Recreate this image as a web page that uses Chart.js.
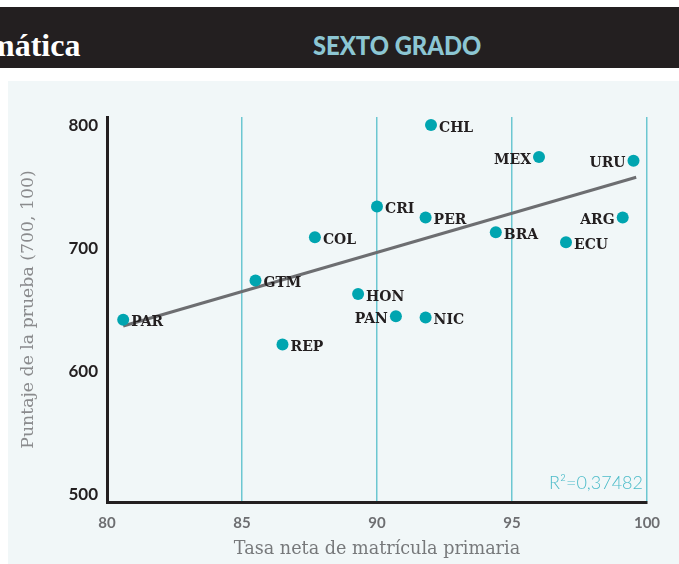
<!DOCTYPE html>
<html>
<head>
<meta charset="utf-8">
<script src="https://cdn.jsdelivr.net/npm/chart.js@4.4.0/dist/chart.umd.min.js"></script>
<style>
  body { margin: 0; width: 679px; height: 564px; background: #ffffff; position: relative; overflow: hidden; }
  #header { position: absolute; left: 0; top: 7px; width: 679px; height: 61px; background: #231f20; overflow: hidden; }
  #subject { position: absolute; left: -12px; top: 20px; line-height: 32px; color: #ffffff; font: bold 32px "Liberation Serif", serif; }
  #grade { position: absolute; left: 313px; top: 21px; color: #8cc6d3; font: 900 27px Lato, sans-serif; transform: scaleX(0.88); transform-origin: left top; white-space: nowrap; }
  #panel { position: absolute; left: 8px; top: 81px; width: 671px; height: 483px; background: #f1f7f8; }
  canvas { position: absolute; left: 0; top: 0; }
</style>
</head>
<body>
<div id="header"><span id="subject">mática</span><span id="grade">SEXTO GRADO</span></div>
<div id="panel"><canvas id="scatter" width="671" height="483" style="width:671px;height:483px"></canvas></div>
<script>
// values
const countries = ['PAR', 'GTM', 'REP', 'COL', 'HON', 'CRI', 'PAN', 'NIC', 'PER', 'CHL', 'BRA', 'MEX', 'ECU', 'ARG', 'URU'];
const enrolment = [80.6, 85.5, 86.5, 87.7, 89.3, 90.0, 90.7, 91.8, 91.8, 92.0, 94.4, 96.0, 97.0, 99.1, 99.5];
const scores = [642, 674, 622, 709, 663, 734, 645, 644, 725, 800, 713, 774, 705, 725, 771];
const trendX = [80.6, 99.6];
const trendY = [637, 757.6];
const xTicks = [80, 85, 90, 95, 100];
const yTicks = [500, 600, 700, 800];
const r2Text = 'R²=0,37482';

// labels that sit on the left of their dot
const leftLabels = ['MEX', 'URU', 'ARG', 'PAN'];

const pointLabels = {
    id: 'pointLabels',
    afterDatasetsDraw(chart) {
        const ctx = chart.ctx;
        const meta = chart.getDatasetMeta(1);
        ctx.save();
        ctx.font = 'bold 14px "DejaVu Serif", serif';
        ctx.fillStyle = '#231f20';
        ctx.textBaseline = 'middle';
        meta.data.forEach((pt, i) => {
            const name = countries[i];
            if (leftLabels.includes(name)) {
                ctx.textAlign = 'right';
                ctx.fillText(name, pt.x - 8, pt.y + 3);
            } else {
                ctx.textAlign = 'left';
                ctx.fillText(name, pt.x + 8, pt.y + 3);
            }
        });
        // R squared note
        const area = chart.chartArea;
        ctx.font = '300 18px Lato, sans-serif';
        ctx.fillStyle = '#4dbcc9';
        ctx.textAlign = 'right';
        ctx.textBaseline = 'alphabetic';
        ctx.fillText(r2Text, area.right - 4, area.bottom - 13);
        ctx.restore();
    }
};

const ctx_scatter = document.getElementById('scatter').getContext('2d');
const scatterChart = new Chart(ctx_scatter, {
    type: 'scatter',
    data: {
        datasets: [{
            label: 'tendencia',
            data: trendX.map((x, i) => ({ x: x, y: trendY[i] })),
            showLine: true,
            borderColor: '#6d6e71',
            borderWidth: 3,
            pointRadius: 0,
            order: 2
        }, {
            label: 'países',
            data: enrolment.map((x, i) => ({ x: x, y: scores[i] })),
            backgroundColor: '#00a5b0',
            borderWidth: 0,
            pointRadius: 6,
            order: 1
        }]
    },
    options: {
        responsive: false,
        maintainAspectRatio: false,
        animation: false,
        layout: { padding: { top: 36, right: 32, left: 0, bottom: 0 } },
        scales: {
            x: {
                type: 'linear',
                min: 80,
                max: 100,
                afterBuildTicks: (scale) => { scale.ticks = xTicks.map(v => ({ value: v })); },
                afterFit: (scale) => { scale.height = 62; },
                border: { color: '#231f20', width: 3 },
                grid: {
                    drawTicks: false,
                    color: (c) => c.tick && c.tick.value === 80 ? 'rgba(0,0,0,0)' : '#6cc7d1',
                    lineWidth: 1.5
                },
                ticks: {
                    padding: 12,
                    color: '#6d6e71',
                    font: { family: 'Lato', size: 15, weight: 'bold' }
                },
                title: {
                    display: true,
                    text: 'Tasa neta de matrícula primaria',
                    color: '#77797b',
                    font: { family: 'DejaVu Serif', size: 17.6 },
                    padding: { top: 0 }
                }
            },
            y: {
                type: 'linear',
                min: 494.3,
                max: 806.5,
                afterBuildTicks: (scale) => { scale.ticks = yTicks.map(v => ({ value: v })); },
                afterFit: (scale) => { scale.width = 99; },
                border: { color: '#231f20', width: 3 },
                grid: { display: false, drawTicks: false },
                ticks: {
                    padding: 9,
                    color: '#231f20',
                    font: { family: 'Lato', size: 17, weight: 'bold' }
                },
                title: {
                    display: true,
                    text: 'Puntaje de la prueba (700, 100)',
                    color: '#8a8b8d',
                    font: { family: 'DejaVu Serif', size: 17.3 },
                    padding: { top: 10, bottom: 0 }
                }
            }
        },
        plugins: {
            legend: { display: false },
            tooltip: { enabled: false }
        }
    },
    plugins: [pointLabels]
});
</script>
</body>
</html>
